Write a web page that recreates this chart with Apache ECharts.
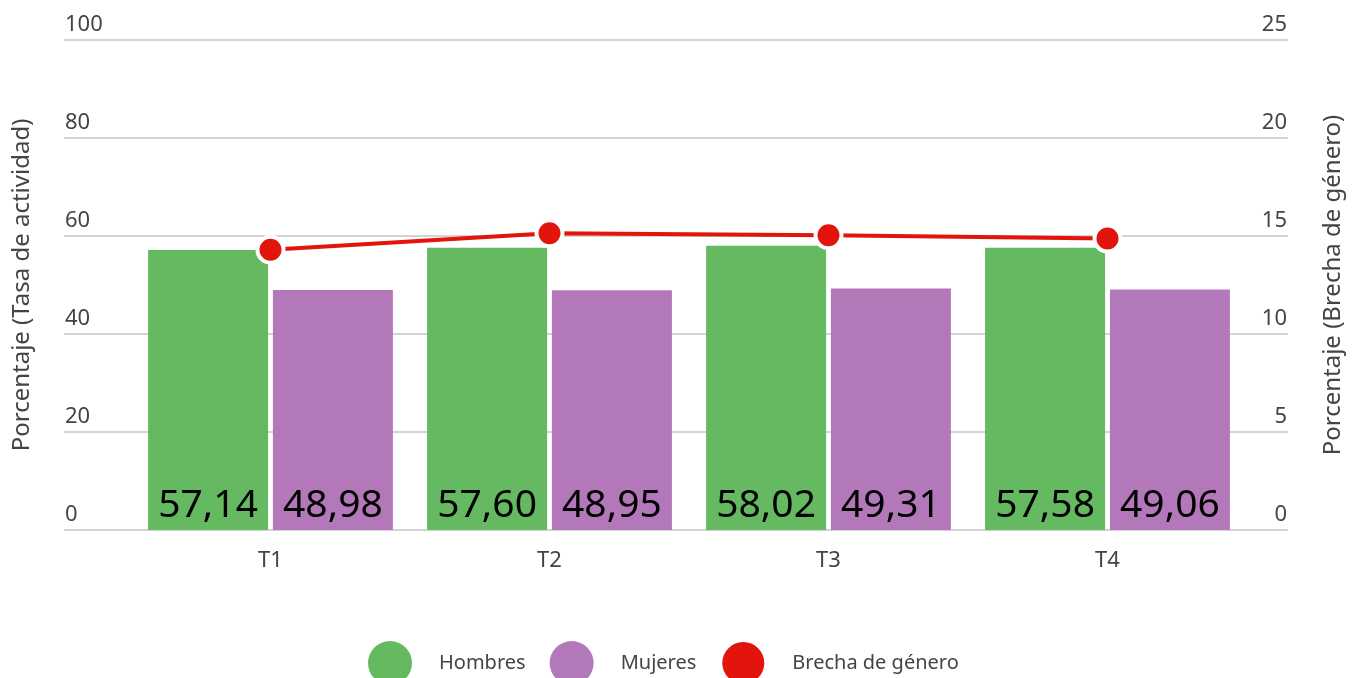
<!DOCTYPE html>
<html>
<head>
<meta charset="utf-8">
<script src="https://cdn.jsdelivr.net/npm/echarts@6/dist/echarts.min.js"></script>
<style>
html,body{margin:0;padding:0;background:#fff;}
#c{width:1361px;height:678px;}
</style>
</head>
<body>
<div id="c"></div>
<script>
const categories = ['T1', 'T2', 'T3', 'T4'];
const hombres = [57.14, 57.60, 58.02, 57.58];
const mujeres = [48.98, 48.95, 49.31, 49.06];
const brecha = [14.3, 15.14, 15.04, 14.87];
const leftTicks = [0, 20, 40, 60, 80, 100];
const rightTicks = [0, 5, 10, 15, 20, 25];

const FONT = '"Noto Sans", "Open Sans", sans-serif';
const GREEN = '#64b961';
const PURPLE = '#b378b9';
const RED = '#e3140c';
const fmt = v => v.toFixed(2).replace('.', ',');

const chart = echarts.init(document.getElementById('c'), null, {renderer: 'canvas'});
const gridTop = 40, gridBottom = 678 - 530;
chart.setOption({
  animation: false,
  textStyle: {fontFamily: FONT},
  grid: [
    {left: 131, width: 1116, top: gridTop, bottom: gridBottom},
    {left: 64, right: 1361 - 1288, top: gridTop, bottom: gridBottom}
  ],
  legend: {
    left: 363, top: 635,
    icon: 'circle',
    itemWidth: 44, itemHeight: 44,
    itemGap: 24,
    textStyle: {fontSize: 20, color: '#444', fontFamily: FONT, padding: [0, 0, 0, 22]},
    data: ['Hombres', 'Mujeres', 'Brecha de género']
  },
  xAxis: [
    {
      type: 'category', gridIndex: 0, data: categories,
      axisLine: {show: false}, axisTick: {show: false},
      axisLabel: {fontSize: 22, color: '#444', margin: 20, fontFamily: FONT}
    },
    {type: 'value', gridIndex: 1, show: false, min: 0, max: 1}
  ],
  yAxis: [
    {type: 'value', gridIndex: 0, min: 0, max: 100, show: false},
    {type: 'value', gridIndex: 0, min: 0, max: 25, show: false},
    {
      type: 'value', gridIndex: 1, position: 'left', min: 0, max: 100, interval: 20,
      name: 'Porcentaje (Tasa de actividad)', nameLocation: 'middle', nameGap: 30,
      nameTextStyle: {fontSize: 24, color: '#444', fontFamily: FONT},
      axisLine: {show: false}, axisTick: {show: false},
      splitLine: {show: true, lineStyle: {color: '#d3d3d3', width: 2}},
      axisLabel: {
        inside: true, margin: 1, fontSize: 22, color: '#444', fontFamily: FONT,
        verticalAlign: 'bottom', lineHeight: 22, padding: [0, 0, 4, 0],
        formatter: v => leftTicks.includes(v) ? String(v) : ''
      }
    },
    {
      type: 'value', gridIndex: 1, position: 'right', min: 0, max: 25, interval: 5,
      name: 'Porcentaje (Brecha de género)', nameLocation: 'middle', nameGap: 33,
      nameTextStyle: {fontSize: 24, color: '#444', fontFamily: FONT},
      axisLine: {show: false}, axisTick: {show: false},
      splitLine: {show: false},
      axisLabel: {
        inside: true, margin: 1, fontSize: 22, color: '#444', fontFamily: FONT,
        verticalAlign: 'bottom', lineHeight: 22, padding: [0, 0, 4, 0],
        formatter: v => rightTicks.includes(v) ? String(v) : ''
      }
    }
  ],
  series: [
    {
      name: 'Hombres', type: 'bar', xAxisIndex: 0, yAxisIndex: 0,
      data: hombres, barWidth: 120, barGap: '4%',
      itemStyle: {color: GREEN},
      label: {show: true, position: 'insideBottom', distance: 5, fontSize: 39, color: '#000', fontFamily: FONT, formatter: p => fmt(p.value)}
    },
    {
      name: 'Mujeres', type: 'bar', xAxisIndex: 0, yAxisIndex: 0,
      data: mujeres, barWidth: 120, barGap: '4%',
      itemStyle: {color: PURPLE},
      label: {show: true, position: 'insideBottom', distance: 5, fontSize: 39, color: '#000', fontFamily: FONT, formatter: p => fmt(p.value)}
    },
    {
      name: 'Brecha de género', type: 'line', xAxisIndex: 0, yAxisIndex: 1,
      data: brecha, symbol: 'circle', symbolSize: 26, z: 5,
      lineStyle: {color: RED, width: 4},
      itemStyle: {color: RED, borderColor: '#fff', borderWidth: 4}
    }
  ]
});
</script>
</body>
</html>
